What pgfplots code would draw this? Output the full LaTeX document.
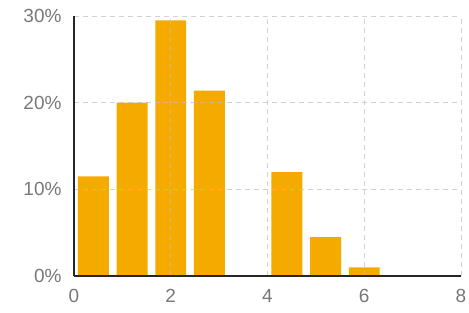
\documentclass[border=0pt]{standalone}
\usepackage{pgfplots}
\pgfplotsset{compat=1.18}
\usepackage{fontspec}
\setmainfont{Liberation Sans}
\definecolor{barorange}{RGB}{245,170,0}
\definecolor{lbl}{RGB}{120,120,120}
\begin{document}
\begin{tikzpicture}[x=1bp,y=1bp]
\begin{axis}[
  at={(74bp,37bp)}, anchor=south west,
  scale only axis, width=387bp, height=260bp,
  xmin=0, xmax=8, ymin=0, ymax=30,
  axis x line*=bottom, axis y line*=left,
  axis line style={black!85, line width=1.3pt, -},
  xtick={0,2,4,6,8}, ytick={0,10,20,30},
  yticklabel={\pgfmathprintnumber{\tick}\%},
  /pgf/number format/assume math mode=true,
  tick label style={font=\fontsize{19bp}{21bp}\selectfont, text=lbl},
  major tick length=0pt,
  xticklabel style={yshift=-10bp},
  yticklabel style={xshift=-9bp},
  grid=major,
  major grid style={dash pattern=on 5bp off 4bp, black!25, opacity=0.7, line width=0.9pt},
  axis on top,
  clip=false,
]
\addplot[ybar, bar width=0.64, bar shift=0pt, fill=barorange, draw=none]
coordinates {(0.4,11.5) (1.2,20.0) (2.0,29.5) (2.8,21.4) (4.4,12.0) (5.2,4.5) (6.0,1.0)};
\end{axis}
\pgfresetboundingbox
\path (0,0) rectangle (469bp,313bp);
\end{tikzpicture}
\end{document}
